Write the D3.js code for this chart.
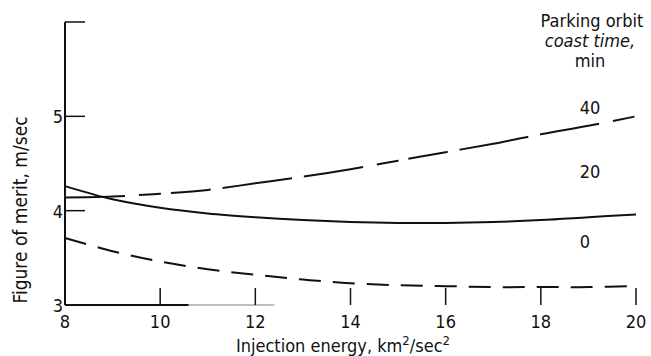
<!DOCTYPE html>
<html>
<head>
<meta charset="utf-8">
<script src="https://cdn.jsdelivr.net/npm/d3@7"></script>
<style>
  body { margin: 0; background: #fff; }
  svg text { font-family: "DejaVu Sans Condensed", "Liberation Sans Narrow", sans-serif; font-stretch: condensed; fill: #111; }
</style>
</head>
<body>
<script>
// injection energy, km^2/sec^2
var energy = [8, 9, 10, 11, 12, 13, 14, 15, 16, 17, 18, 19, 20];
// figure of merit, m/sec, one list per parking orbit coast time
var coast0  = [3.71, 3.57, 3.46, 3.38, 3.32, 3.27, 3.23, 3.21, 3.20, 3.19, 3.19, 3.19, 3.20];
var coast20 = [4.26, 4.12, 4.03, 3.97, 3.93, 3.90, 3.88, 3.87, 3.87, 3.88, 3.90, 3.93, 3.96];
var coast40 = [4.14, 4.15, 4.18, 4.22, 4.29, 4.36, 4.44, 4.53, 4.62, 4.71, 4.81, 4.90, 5.00];
var xTicks = [8, 10, 12, 14, 16, 18, 20];
var yTicks = [3, 4, 5, 6];
var yLabels = ["3", "4", "5", ""];
var curveLabels = ["0", "20", "40"];

var width = 651, height = 356;

var svg = d3.select("body").append("svg")
    .attr("width", width)
    .attr("height", height);

var x = d3.scaleLinear().domain([8, 20]).range([65, 636]);
var y = d3.scaleLinear().domain([3, 6]).range([305, 22]);

var ink = "#111";

// y axis: line plus ticks pointing right
svg.append("line")
    .attr("x1", x(8)).attr("x2", x(8))
    .attr("y1", y(3)).attr("y2", y(6))
    .attr("stroke", ink).attr("stroke-width", 2);

svg.selectAll(".ytick")
    .data(yTicks.slice(1))
    .enter().append("line")
    .attr("x1", x(8)).attr("x2", x(8) + 20)
    .attr("y1", function(d){ return y(d); })
    .attr("y2", function(d){ return y(d); })
    .attr("stroke", ink).attr("stroke-width", 1.5);

svg.selectAll(".ylab")
    .data(yTicks)
    .enter().append("text")
    .attr("x", x(8) - 2)
    .attr("y", function(d){ return y(d) + 7; })
    .attr("text-anchor", "end")
    .attr("font-size", 18)
    .text(function(d, i){ return yLabels[i]; });

// x axis: the printed line fades out toward the right
svg.append("line")
    .attr("x1", x(8)).attr("x2", x(10.6))
    .attr("y1", y(3)).attr("y2", y(3))
    .attr("stroke", ink).attr("stroke-width", 2);
svg.append("line")
    .attr("x1", x(10.6)).attr("x2", x(12.4))
    .attr("y1", y(3)).attr("y2", y(3))
    .attr("stroke", "#aaa").attr("stroke-width", 1.5);

svg.selectAll(".xtick")
    .data(xTicks.slice(1))
    .enter().append("line")
    .attr("x1", function(d){ return x(d); })
    .attr("x2", function(d){ return x(d); })
    .attr("y1", y(3)).attr("y2", y(3) - 17)
    .attr("stroke", ink).attr("stroke-width", 1.5);

svg.selectAll(".xlab")
    .data(xTicks)
    .enter().append("text")
    .attr("x", function(d){ return x(d); })
    .attr("y", y(3) + 23)
    .attr("text-anchor", "middle")
    .attr("font-size", 18)
    .text(function(d){ return d; });

// axis titles
var xt = svg.append("text")
    .attr("x", 343).attr("y", 352)
    .attr("text-anchor", "middle")
    .attr("font-size", 18);
xt.append("tspan").text("Injection energy,  km");
xt.append("tspan").attr("dy", -7).attr("font-size", 13).text("2");
xt.append("tspan").attr("dy", 7).text("/sec");
xt.append("tspan").attr("dy", -7).attr("font-size", 13).text("2");

svg.append("text")
    .attr("transform", "translate(27,210) rotate(-90)")
    .attr("text-anchor", "middle")
    .attr("font-size", 19)
    .text("Figure of merit,  m/sec");

// curves
var line = d3.line()
    .x(function(d, i){ return x(energy[i]); })
    .y(function(d){ return y(d); })
    .curve(d3.curveCatmullRom);

svg.append("path").datum(coast0)
    .attr("d", line).attr("fill", "none")
    .attr("stroke", ink).attr("stroke-width", 2)
    .attr("stroke-dasharray", "22,12");

svg.append("path").datum(coast20)
    .attr("d", line).attr("fill", "none")
    .attr("stroke", ink).attr("stroke-width", 2);

svg.append("path").datum(coast40)
    .attr("d", line).attr("fill", "none")
    .attr("stroke", ink).attr("stroke-width", 2)
    .attr("stroke-dasharray", "60,14,22,10,40,12,70,12");

// legend heading and curve labels
var head = svg.append("text")
    .attr("text-anchor", "middle")
    .attr("font-size", 18);
head.append("tspan").attr("x", 592).attr("y", 27).text("Parking orbit");
head.append("tspan").attr("x", 590).attr("y", 47).attr("font-style", "italic").text("coast time,");
head.append("tspan").attr("x", 590).attr("y", 67).text("min");

var labelPos = [[585, 248], [590, 178], [590, 114]];
svg.selectAll(".clab")
    .data(curveLabels)
    .enter().append("text")
    .attr("x", function(d, i){ return labelPos[i][0]; })
    .attr("y", function(d, i){ return labelPos[i][1]; })
    .attr("text-anchor", "middle")
    .attr("font-size", 18)
    .text(function(d){ return d; });
</script>
</body>
</html>
